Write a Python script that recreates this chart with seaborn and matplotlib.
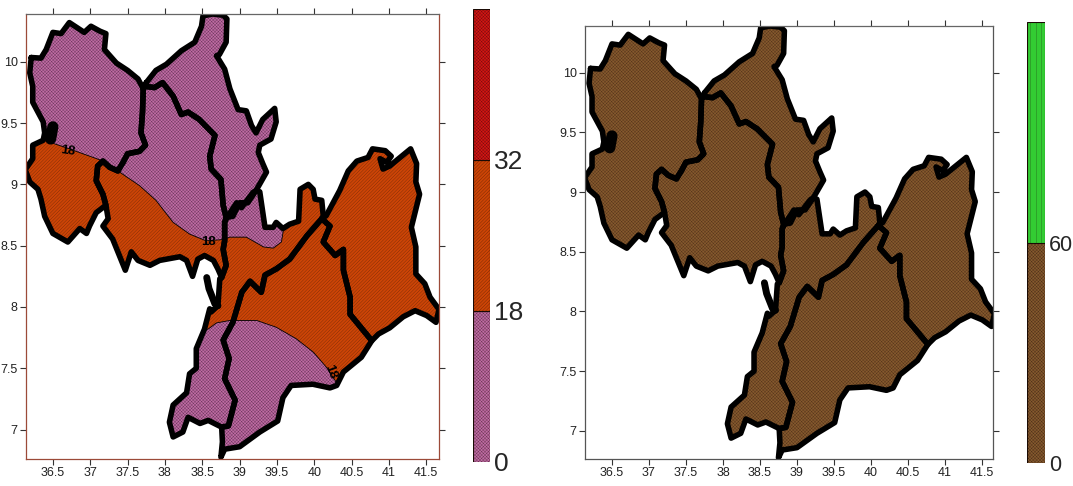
#!/usr/bin/env python3
"""Two zone maps side by side, each with a stepped colour bar"""

import matplotlib
matplotlib.use('Agg')
import matplotlib.pyplot as plt
import seaborn as sns

# zone outlines, lon / lat
west_lon = [36.21, 36.34, 36.41, 36.50, 36.61, 36.72, 36.92, 37.01, 37.13, 37.21, 37.19, 37.35, 37.50, 37.64, 37.71,
            37.70, 37.68, 37.74, 37.66, 37.50, 37.44, 37.37, 37.26, 37.17, 37.10, 37.08, 37.17, 37.21, 37.08, 36.99,
            36.95, 36.86, 36.70, 36.50, 36.39, 36.34, 36.30, 36.19, 36.13, 36.23, 36.23, 36.37, 36.39, 36.37, 36.23,
            36.23, 36.19]
west_lat = [10.035, 10.03, 10.10, 10.24, 10.23, 10.32, 10.24, 10.29, 10.25, 10.23, 10.10, 9.99, 9.93, 9.86, 9.78,
            9.59, 9.42, 9.32, 9.27, 9.25, 9.18, 9.11, 9.14, 9.19, 9.15, 9.03, 8.92, 8.83, 8.77, 8.66,
            8.60, 8.64, 8.53, 8.60, 8.74, 8.88, 8.96, 9.02, 9.12, 9.21, 9.32, 9.36, 9.42, 9.51, 9.67,
            9.80, 9.91]

north_lon = [37.75, 37.88, 38.02, 38.22, 38.40, 38.49, 38.51, 38.64, 38.78, 38.83, 38.82, 38.73, 38.69, 38.80, 38.87,
             38.98, 39.09, 39.16, 39.22, 39.31, 39.47, 39.49, 39.42, 39.27, 39.25, 39.31, 39.36, 39.22, 39.11, 39.00,
             38.91, 38.82, 38.78, 38.75, 38.62, 38.60, 38.67, 38.46, 38.31, 38.22, 38.11, 37.97, 37.86, 37.73]
north_lat = [9.83, 9.93, 9.98, 10.09, 10.16, 10.29, 10.375, 10.39, 10.38, 10.35, 10.16, 10.06, 10.05, 9.94, 9.78,
             9.61, 9.60, 9.48, 9.42, 9.53, 9.62, 9.51, 9.37, 9.32, 9.26, 9.17, 9.10, 8.95, 8.85, 8.85,
             8.74, 8.73, 8.83, 9.04, 9.125, 9.23, 9.40, 9.53, 9.59, 9.57, 9.72, 9.83, 9.79, 9.80]

central_lon = [37.71, 37.70, 37.68, 37.74, 37.66, 37.50, 37.44, 37.37, 37.26, 37.17, 37.10, 37.08, 37.17, 37.21, 37.24,
               37.17, 37.30, 37.39, 37.47, 37.55, 37.64, 37.80, 37.93, 38.20, 38.29, 38.37, 38.44, 38.53, 38.65, 38.71,
               38.76, 38.82, 38.78, 38.80, 38.80, 38.82, 38.78, 38.75, 38.62, 38.60, 38.67, 38.46, 38.31, 38.22, 38.11,
               37.97, 37.86, 37.73]
central_lat = [9.78, 9.59, 9.42, 9.32, 9.27, 9.25, 9.18, 9.11, 9.14, 9.19, 9.15, 9.03, 8.92, 8.83, 8.72,
               8.66, 8.555, 8.42, 8.30, 8.45, 8.38, 8.34, 8.38, 8.41, 8.38, 8.25, 8.39, 8.42, 8.38, 8.31,
               8.24, 8.34, 8.47, 8.54, 8.69, 8.73, 8.83, 9.04, 9.125, 9.23, 9.40, 9.53, 9.59, 9.57, 9.72,
               9.83, 9.79, 9.80]

middle_lon = [38.82, 38.96, 39.025, 39.18, 39.22, 39.27, 39.34, 39.45, 39.49, 39.58, 39.67, 39.79, 39.81, 39.92, 39.985,
              40.01, 40.10, 40.12, 40.10, 39.90, 39.67, 39.49, 39.34, 39.29, 39.14, 39.03, 38.91, 38.78, 38.86, 38.80,
              38.94, 38.85, 38.76, 38.58, 38.47, 38.31, 38.24, 38.11, 38.06, 38.11, 38.29, 38.33, 38.42, 38.42, 38.53,
              38.60, 38.62, 38.71, 38.735, 38.76, 38.82, 38.78, 38.80, 38.80]
middle_lat = [8.72, 8.85, 8.81, 8.935, 8.95, 8.94, 8.65, 8.65, 8.69, 8.64, 8.675, 8.70, 8.96, 9.00, 8.96,
              8.88, 8.87, 8.745, 8.72, 8.58, 8.39, 8.31, 8.26, 8.12, 8.21, 8.12, 7.875, 7.73, 7.58, 7.415,
              7.24, 7.03, 7.02, 7.075, 7.05, 7.10, 6.98, 6.94, 7.06, 7.20, 7.30, 7.455, 7.50, 7.66, 7.82,
              7.985, 7.96, 8.01, 8.23, 8.24, 8.34, 8.47, 8.54, 8.69]

south_lon = [40.10, 40.21, 40.12, 40.28, 40.39, 40.39, 40.48, 40.48, 40.77, 40.63, 40.39, 40.30, 40.21, 39.98, 39.69,
             39.58, 39.51, 39.27, 39.00, 38.80, 38.75, 38.77, 38.76, 38.85, 38.94, 38.80, 38.86, 38.78, 38.91, 39.03,
             39.14, 39.29, 39.34, 39.49, 39.67, 39.90]
south_lat = [8.72, 8.66, 8.53, 8.42, 8.47, 8.30, 8.08, 7.94, 7.725, 7.59, 7.47, 7.36, 7.34, 7.37, 7.36,
             7.26, 7.07, 6.98, 6.86, 6.84, 6.775, 6.90, 7.02, 7.03, 7.24, 7.415, 7.58, 7.73, 7.875, 8.12,
             8.21, 8.12, 8.26, 8.31, 8.39, 8.58]

east_lon = [40.10, 40.16, 40.34, 40.455, 40.57, 40.72, 40.78, 40.95, 41.03, 40.97, 40.88, 40.92, 41.01, 41.29, 41.37,
            41.36, 41.41, 41.30, 41.36, 41.36, 41.48, 41.55, 41.67, 41.63, 41.505, 41.35, 41.19, 41.01, 40.86, 40.77,
            40.48, 40.48, 40.39, 40.39, 40.28, 40.12, 40.21]
east_lat = [8.72, 8.745, 8.95, 9.11, 9.19, 9.22, 9.29, 9.275, 9.23, 9.18, 9.21, 9.125, 9.15, 9.29, 9.17,
            9.02, 8.92, 8.65, 8.49, 8.27, 8.19, 8.08, 7.98, 7.875, 7.93, 7.97, 7.92, 7.83, 7.78, 7.725,
            7.94, 8.08, 8.30, 8.47, 8.42, 8.53, 8.66]

# small water bodies drawn as solid black strokes
lake_lon = [36.50, 36.47]
lake_lat = [9.47, 9.37]
river_lon = [38.56, 38.59, 38.67, 38.71]
river_lat = [8.24, 8.15, 8.025, 8.01]

# the 18 isoline, northern and southern branches
iso_north_lon = [36.0, 36.39, 36.48, 36.72, 37.13, 37.37, 37.66, 37.88, 38.11, 38.33, 38.55, 38.78, 38.87, 39.09, 39.32,
                 39.45, 39.56, 39.59]
iso_north_lat = [9.40, 9.37, 9.34, 9.29, 9.20, 9.11, 8.99, 8.87, 8.69, 8.595, 8.54, 8.55, 8.57, 8.57, 8.49,
                 8.48, 8.53, 8.64]
iso_south_lon = [38.45, 38.58, 38.69, 38.87, 39.23, 39.49, 39.76, 39.99, 40.16, 40.28, 40.40]
iso_south_lat = [7.80, 7.82, 7.87, 7.89, 7.89, 7.835, 7.74, 7.63, 7.51, 7.40, 7.28]

x_ticks = [36.5, 37, 37.5, 38, 38.5, 39, 39.5, 40, 40.5, 41, 41.5]
y_ticks = [7, 7.5, 8, 8.5, 9, 9.5, 10]
tick_labels_x = ['36.5', '37', '37.5', '38', '38.5', '39', '39.5', '40', '40.5', '41', '41.5']
tick_labels_y = ['7', '7.5', '8', '8.5', '9', '9.5', '10']

left_levels = ['0', '18', '32']
left_colors = ['#c06aa4', '#cc4406', '#d41414']
left_hatches = ['xxxxxxxxxx', '//////////', 'xxxxxxxxxx']
right_levels = ['0', '60']
right_colors = ['#85592e', '#33cc33']
right_hatches = ['xxxxxxxxxx', '|||']

PURPLE = left_colors[0]
ORANGE = left_colors[1]
BROWN = right_colors[0]
FRAME = '#9c4a38'
FONT = ['Liberation Sans', 'DejaVu Sans']

W, H = 1073, 486
regions = [(west_lon, west_lat), (north_lon, north_lat), (central_lon, central_lat),
           (middle_lon, middle_lat), (south_lon, south_lat), (east_lon, east_lat)]


def px_axes(fig, x0, y0, x1, y1):
    """Axes from pixel box, y counted from the top"""
    return fig.add_axes([x0 / W, 1 - y1 / H, (x1 - x0) / W, (y1 - y0) / H])


def draw_map(ax, base_color, base_hatch, xlim, ylim, frame):
    for lon, lat in regions:
        ax.fill(lon, lat, facecolor=base_color, edgecolor='#2a1408', linewidth=0, hatch=base_hatch)
    ax.set_xlim(xlim)
    ax.set_ylim(ylim)
    ax.set_xticks(x_ticks, tick_labels_x)
    ax.set_yticks(y_ticks, tick_labels_y)
    ax.tick_params(top=True, right=True, direction='out', length=4.5, width=0.8, pad=1.5, labelsize=9,
                   color='#333333', labelcolor='#222222')
    ax.spines['top'].set_color('#666666')
    for side in ['left', 'right', 'bottom']:
        ax.spines[side].set_color(frame)
    for spine in ax.spines.values():
        spine.set_visible(True)
        spine.set_linewidth(0.9)


def draw_outlines(ax):
    for lon, lat in regions:
        sns.lineplot(x=lon + lon[:1], y=lat + lat[:1], sort=False, estimator=None, color='black',
                     linewidth=4.0, ax=ax, solid_joinstyle='round')
    sns.lineplot(x=lake_lon, y=lake_lat, sort=False, estimator=None, color='black', linewidth=8,
                 ax=ax, solid_capstyle='round')
    sns.lineplot(x=river_lon, y=river_lat, sort=False, estimator=None, color='black', linewidth=5,
                 ax=ax, solid_capstyle='round')
    ax.set_xlabel('')
    ax.set_ylabel('')


def draw_bar(fig, box, levels, colors, hatches, label_size):
    cax = px_axes(fig, *box)
    n = len(levels)
    cax.bar([0] * n, [1] * n, bottom=list(range(n)), width=1, color=colors, edgecolor='#1a0a04',
            linewidth=0.8, hatch=hatches)
    cax.set_xlim(-0.5, 0.5)
    cax.set_ylim(0, n)
    cax.set_xticks([])
    cax.yaxis.tick_right()
    cax.set_yticks(range(n), levels)
    cax.tick_params(axis='y', length=0, pad=3, labelsize=label_size)
    sns.despine(ax=cax, left=True, right=True, top=True, bottom=True)


def main():
    sns.set_theme(style='ticks')
    plt.rcParams['font.family'] = FONT
    plt.rcParams['hatch.linewidth'] = 0.15

    fig = plt.figure(figsize=(W / 100, H / 100), dpi=100)

    # left map, split at the 18 isoline
    ax1 = px_axes(fig, 26, 14, 439, 459)
    draw_map(ax1, ORANGE, '//////////', (36.14, 41.67), (6.76, 10.39), FRAME)
    north_area_lon = iso_north_lon + [39.60, 39.60, 36.0]
    north_area_lat = iso_north_lat + [8.70, 10.6, 10.6]
    south_area_lon = iso_south_lon + [40.40, 38.0, 38.0]
    south_area_lat = iso_south_lat + [6.6, 6.6, 7.80]
    for lon, lat in regions:
        clip = ax1.fill(lon, lat, facecolor='none', edgecolor='none')[0]
        for a_lon, a_lat in [(north_area_lon, north_area_lat), (south_area_lon, south_area_lat)]:
            area = ax1.fill(a_lon, a_lat, facecolor=PURPLE, edgecolor='#1c0c18', linewidth=0,
                            hatch='xxxxxxxxxx')[0]
            area.set_clip_path(clip)
        for i_lon, i_lat in [(iso_north_lon, iso_north_lat), (iso_south_lon, iso_south_lat)]:
            line = ax1.plot(i_lon, i_lat, color='black', linewidth=0.6)[0]
            line.set_clip_path(clip)
    draw_outlines(ax1)
    ax1.set_xlim(36.14, 41.67)
    ax1.set_ylim(6.76, 10.39)

    label_style = dict(fontsize=9.5, fontweight='bold', ha='center', va='center', color='black')
    ax1.text(36.70, 9.27, '18', rotation=-8, **label_style)
    ax1.text(38.58, 8.53, '18', **label_style)
    ax1.text(40.22, 7.47, '18', rotation=-70, **label_style)

    draw_bar(fig, (473, 9, 490, 461.5), left_levels, left_colors, left_hatches, 19)

    # right map, one class only
    ax2 = px_axes(fig, 585, 26, 993, 459)
    draw_map(ax2, BROWN, 'xxxxxxxxxx', (36.135, 41.65), (6.765, 10.39), '#555555')
    draw_outlines(ax2)
    ax2.set_xlim(36.135, 41.65)
    ax2.set_ylim(6.765, 10.39)

    draw_bar(fig, (1027, 22, 1044.5, 463), right_levels, right_colors, right_hatches, 15.5)

    fig.savefig('out.png', dpi=100)


if __name__ == '__main__':
    main()
